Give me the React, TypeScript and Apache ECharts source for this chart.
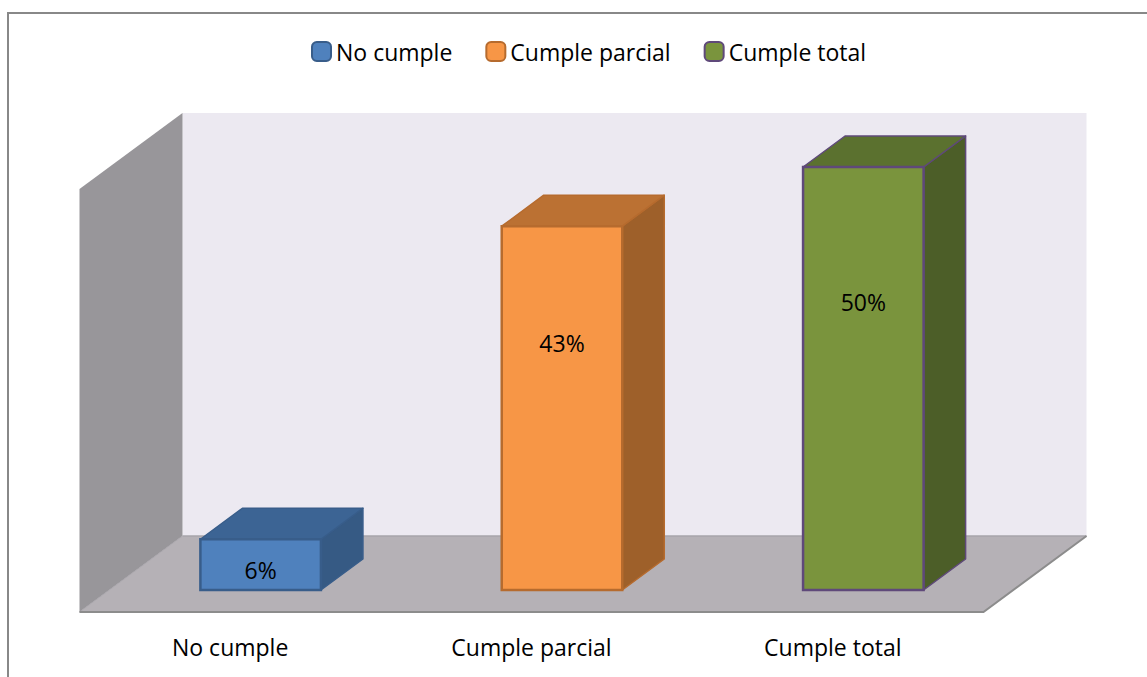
import React, { useEffect, useRef } from "react";
import * as echarts from "echarts";

// Categories and percentages shown on the bars
const categories = ["No cumple", "Cumple parcial", "Cumple total"];
const seriesNames = ["No cumple", "Cumple parcial", "Cumple total"];
const values = [6, 43, 50];

// Face colours for each bar: front, top, side, outline
const frontColors = ["#4F81BD", "#F79646", "#7A943D"];
const topColors = ["#3C6494", "#BB7133", "#5B712F"];
const sideColors = ["#365A84", "#9E602A", "#4C5E28"];
const edgeColors = ["#385D8A", "#B66B2E", "#5F497A"];

const FONT = "'Open Sans', sans-serif";

// 3D projection offsets (px)
const BAR_DX = 42;
const BAR_DY = 31;
const FLOOR_FRONT_DX = -30.5;
const FLOOR_FRONT_DY = 22;
const FLOOR_BACK_DX = 72.5;
const FLOOR_BACK_DY = -54;

function renderScene(params: any) {
  const cs = params.coordSys;
  const x = cs.x;
  const y = cs.y;
  const w = cs.width;
  const h = cs.height;
  const base = y + h;
  const fl = { x: x + FLOOR_FRONT_DX, y: base + FLOOR_FRONT_DY };
  const fr = { x: x + w + FLOOR_FRONT_DX, y: base + FLOOR_FRONT_DY };
  const bl = { x: x + FLOOR_BACK_DX, y: base + FLOOR_BACK_DY };
  const br = { x: x + w + FLOOR_BACK_DX, y: base + FLOOR_BACK_DY };
  return {
    type: "group",
    silent: true,
    children: [
      {
        type: "rect",
        shape: { x: bl.x, y: bl.y - h, width: br.x - bl.x, height: h },
        style: { fill: "#ECE9F1" },
      },
      {
        type: "polygon",
        shape: {
          points: [
            [fl.x, fl.y - h],
            [bl.x, bl.y - h],
            [bl.x, bl.y],
            [fl.x, fl.y],
          ],
        },
        style: { fill: "#98969A" },
      },
      {
        type: "polygon",
        shape: {
          points: [
            [bl.x, bl.y],
            [br.x, br.y],
            [fr.x, fr.y],
            [fl.x, fl.y],
          ],
        },
        style: { fill: "#B5B1B6" },
      },
      {
        type: "line",
        shape: { x1: bl.x, y1: bl.y, x2: br.x, y2: br.y },
        style: { stroke: "#A7A4AA", lineWidth: 1.5 },
      },
      {
        type: "line",
        shape: { x1: fl.x, y1: fl.y, x2: bl.x, y2: bl.y },
        style: { stroke: "#A9A6AC", lineWidth: 1 },
      },
      {
        type: "polyline",
        shape: {
          points: [
            [fl.x, fl.y],
            [fr.x, fr.y],
            [br.x, br.y],
          ],
        },
        style: { stroke: "#8C8C8C", lineWidth: 2, fill: "none" },
      },
    ],
  };
}

function makeBarRenderer(idx: number) {
  return (params: any, api: any) => {
    const cat = api.value(0);
    const val = api.value(1);
    const [cx, yTop] = api.coord([cat, val]);
    const [, yBase] = api.coord([cat, 0]);
    const bandW = api.size([1, 0])[0];
    const bw = bandW * 0.4;
    const x0 = cx - bw / 2;
    const x1 = cx + bw / 2;
    const hgt = yBase - yTop;
    const edge = edgeColors[idx];
    const labelY = yTop + (hgt > 100 ? 0.32 * hgt : 0.6 * hgt);
    return {
      type: "group",
      children: [
        {
          type: "polygon",
          shape: {
            points: [
              [x1, yTop],
              [x1 + BAR_DX, yTop - BAR_DY],
              [x1 + BAR_DX, yBase - BAR_DY],
              [x1, yBase],
            ],
          },
          style: { fill: sideColors[idx], stroke: edge, lineWidth: 1.5, lineJoin: "round" },
        },
        {
          type: "polygon",
          shape: {
            points: [
              [x0, yTop],
              [x0 + BAR_DX, yTop - BAR_DY],
              [x1 + BAR_DX, yTop - BAR_DY],
              [x1, yTop],
            ],
          },
          style: { fill: topColors[idx], stroke: edge, lineWidth: 1.5, lineJoin: "round" },
        },
        {
          type: "rect",
          shape: { x: x0, y: yTop, width: bw, height: hgt },
          style: { fill: frontColors[idx], stroke: edge, lineWidth: 2.5 },
        },
        {
          type: "text",
          x: cx,
          y: labelY,
          style: {
            text: values[idx] + "%",
            fill: "#000000",
            font: `23px ${FONT}`,
            align: "center",
            verticalAlign: "middle",
          },
        },
      ],
    };
  };
}

export default function App() {
  const ref = useRef<HTMLDivElement>(null);

  useEffect(() => {
    if (!ref.current) return;
    const chart = echarts.init(ref.current, undefined, { renderer: "svg" });

    const barSeries = seriesNames.map((name, idx) => ({
      type: "custom",
      name,
      z: 3,
      coordinateSystem: "cartesian2d",
      itemStyle: { color: frontColors[idx], borderColor: edgeColors[idx], borderWidth: 2.5 },
      renderItem: makeBarRenderer(idx),
      data: [[idx, values[idx]]],
    }));

    chart.setOption({
      animation: false,
      backgroundColor: "#FFFFFF",
      graphic: [
        {
          type: "rect",
          silent: true,
          z: 0,
          shape: { x: 8, y: 13, width: 1300, height: 800 },
          style: { fill: "none", stroke: "#888888", lineWidth: 2 },
        },
      ],
      legend: {
        left: 306,
        top: 35,
        itemWidth: 19,
        itemHeight: 19,
        itemGap: 33,
        icon: "roundRect",
        textStyle: { fontFamily: FONT, fontSize: 23, color: "#000000", lineHeight: 23 },
        data: seriesNames,
      },
      grid: { left: 110, top: 167, width: 904, height: 423 },
      xAxis: {
        type: "category",
        data: categories,
        axisLine: { show: false },
        axisTick: { show: false },
        splitLine: { show: false },
        axisLabel: {
          margin: 45,
          fontFamily: FONT,
          fontSize: 23,
          lineHeight: 23,
          color: "#000000",
          padding: [0, 61, 0, 0],
        },
      },
      yAxis: {
        type: "value",
        min: 0,
        max: 50,
        show: false,
        splitLine: { show: false },
      },
      series: [
        {
          type: "custom",
          name: "scene",
          z: 1,
          silent: true,
          coordinateSystem: "cartesian2d",
          renderItem: renderScene,
          data: [[0, 0]],
        },
        ...barSeries,
      ],
    });

    return () => chart.dispose();
  }, []);

  return (
    <div
      ref={ref}
      style={{ position: "absolute", left: 0, top: 0, width: 1147, height: 677 }}
    />
  );
}
